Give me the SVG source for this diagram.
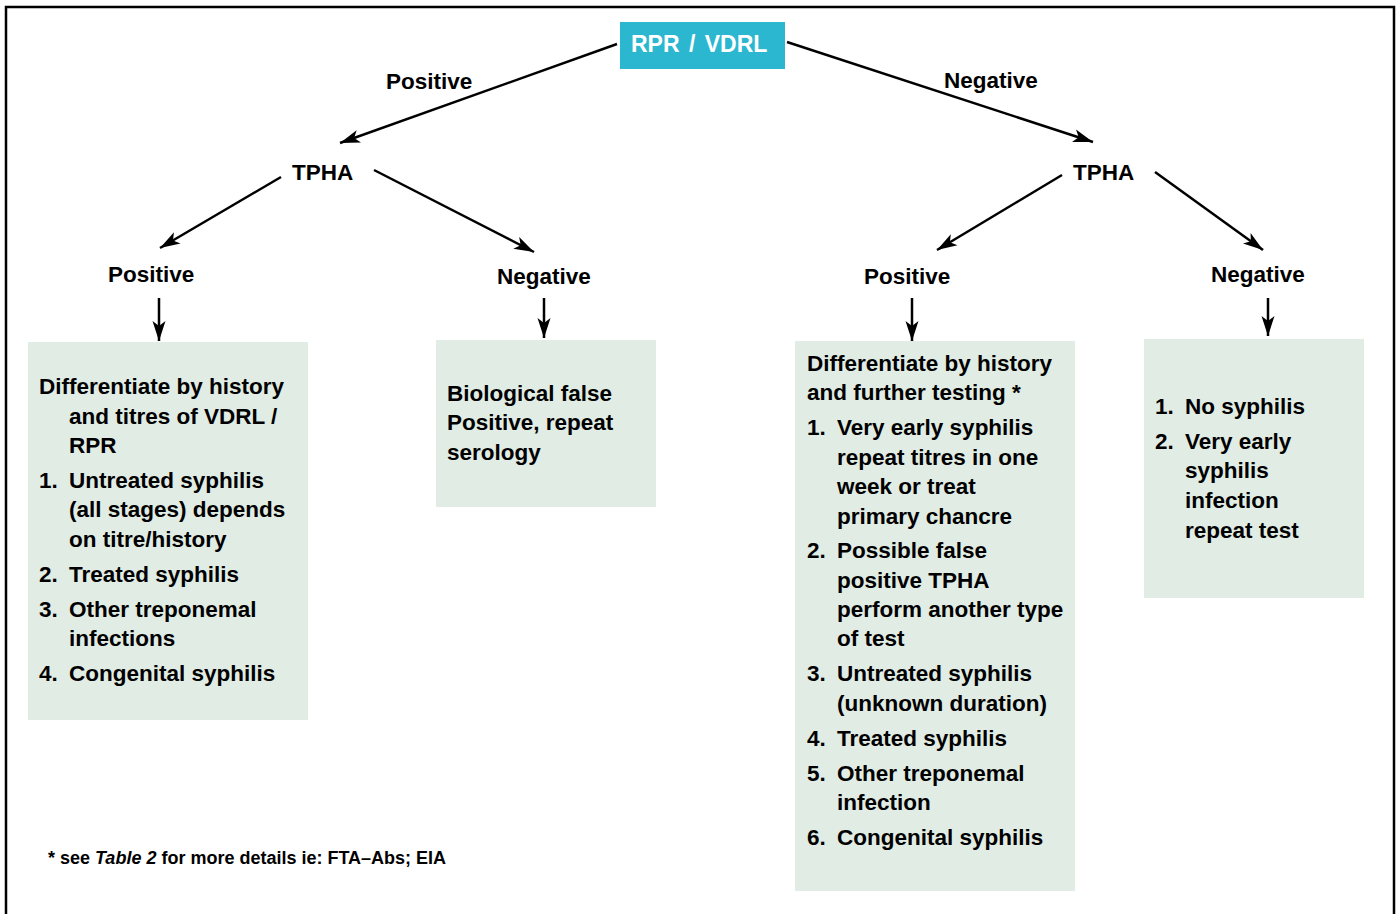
<svg xmlns="http://www.w3.org/2000/svg" width="1399" height="914" viewBox="0 0 1399 914">
<defs>
<marker id="ah" markerUnits="userSpaceOnUse" markerWidth="22" markerHeight="14" refX="20" refY="7" orient="auto">
<path d="M0,0.5 L20,7 L0,13.5 L5,7 z" fill="#000"/>
</marker>
<style>
text{font-family:"Liberation Sans",Arial,sans-serif;font-weight:bold;font-size:22.5px;fill:#000}
.wt{fill:#fff;font-size:23px;word-spacing:3px}
.box{fill:#e0ece4}
.con{stroke:#000;stroke-width:2.5;fill:none;marker-end:url(#ah)}
.fn{font-size:18px}
</style>
</defs>
<rect width="1399" height="914" fill="#fff"/>
<path d="M6,916 V7 H1394 V916" fill="none" stroke="#000" stroke-width="2.5"/>

<g id="connectors">
<line class="con" x1="617" y1="44" x2="340" y2="143"/>
<line class="con" x1="787" y1="42" x2="1093" y2="142"/>
<line class="con" x1="281" y1="177" x2="160" y2="248"/>
<line class="con" x1="374" y1="170" x2="534" y2="252"/>
<line class="con" x1="1062" y1="175" x2="937" y2="250"/>
<line class="con" x1="1155" y1="172" x2="1263" y2="250"/>
<line class="con" x1="159" y1="298" x2="159" y2="341"/>
<line class="con" x1="544" y1="298" x2="544" y2="338"/>
<line class="con" x1="912" y1="298" x2="912" y2="341"/>
<line class="con" x1="1268" y1="298" x2="1268" y2="336"/>
</g>

<g id="root">
<rect x="620" y="22" width="165" height="47" fill="#2cb7d1"/>
<text class="wt" x="631" y="52">RPR / VDRL</text>
</g>

<g id="lbl-pos-top"><text x="386" y="89">Positive</text></g>
<g id="lbl-neg-top"><text x="944" y="88">Negative</text></g>
<g id="tpha-left"><text x="292" y="180">TPHA</text></g>
<g id="tpha-right"><text x="1073" y="180">TPHA</text></g>
<g id="lbl-pos-l"><text x="108" y="282">Positive</text></g>
<g id="lbl-neg-l"><text x="497" y="284">Negative</text></g>
<g id="lbl-pos-r"><text x="864" y="284">Positive</text></g>
<g id="lbl-neg-r"><text x="1211" y="282">Negative</text></g>

<g id="box1">
<rect class="box" x="28" y="342" width="280" height="378"/>
<text x="39" y="394">Differentiate by history</text>
<text x="69" y="424">and titres of VDRL /</text>
<text x="69" y="453">RPR</text>
<text x="39" y="488">1.</text><text x="69" y="488">Untreated syphilis</text>
<text x="69" y="517">(all stages) depends</text>
<text x="69" y="547">on titre/history</text>
<text x="39" y="582">2.</text><text x="69" y="582">Treated syphilis</text>
<text x="39" y="617">3.</text><text x="69" y="617">Other treponemal</text>
<text x="69" y="646">infections</text>
<text x="39" y="681">4.</text><text x="69" y="681">Congenital syphilis</text>
</g>

<g id="box2">
<rect class="box" x="436" y="340" width="220" height="167"/>
<text x="447" y="401">Biological false</text>
<text x="447" y="430">Positive, repeat</text>
<text x="447" y="460">serology</text>
</g>

<g id="box3">
<rect class="box" x="795" y="341" width="280" height="550"/>
<text x="807" y="371">Differentiate by history</text>
<text x="807" y="400">and further testing *</text>
<text x="807" y="435">1.</text><text x="837" y="435">Very early syphilis</text>
<text x="837" y="465">repeat titres in one</text>
<text x="837" y="494">week or treat</text>
<text x="837" y="524">primary chancre</text>
<text x="807" y="558">2.</text><text x="837" y="558">Possible false</text>
<text x="837" y="588">positive TPHA</text>
<text x="837" y="617">perform another type</text>
<text x="837" y="646">of test</text>
<text x="807" y="681">3.</text><text x="837" y="681">Untreated syphilis</text>
<text x="837" y="711">(unknown duration)</text>
<text x="807" y="746">4.</text><text x="837" y="746">Treated syphilis</text>
<text x="807" y="781">5.</text><text x="837" y="781">Other treponemal</text>
<text x="837" y="810">infection</text>
<text x="807" y="845">6.</text><text x="837" y="845">Congenital syphilis</text>
</g>

<g id="box4">
<rect class="box" x="1144" y="339" width="220" height="259"/>
<text x="1155" y="414">1.</text><text x="1185" y="414">No syphilis</text>
<text x="1155" y="449">2.</text><text x="1185" y="449">Very early</text>
<text x="1185" y="478">syphilis</text>
<text x="1185" y="508">infection</text>
<text x="1185" y="538">repeat test</text>
</g>

<g id="footnote">
<text class="fn" x="48" y="864">* see <tspan font-style="italic">Table 2</tspan> for more details ie: FTA–Abs; EIA</text>
</g>
</svg>
